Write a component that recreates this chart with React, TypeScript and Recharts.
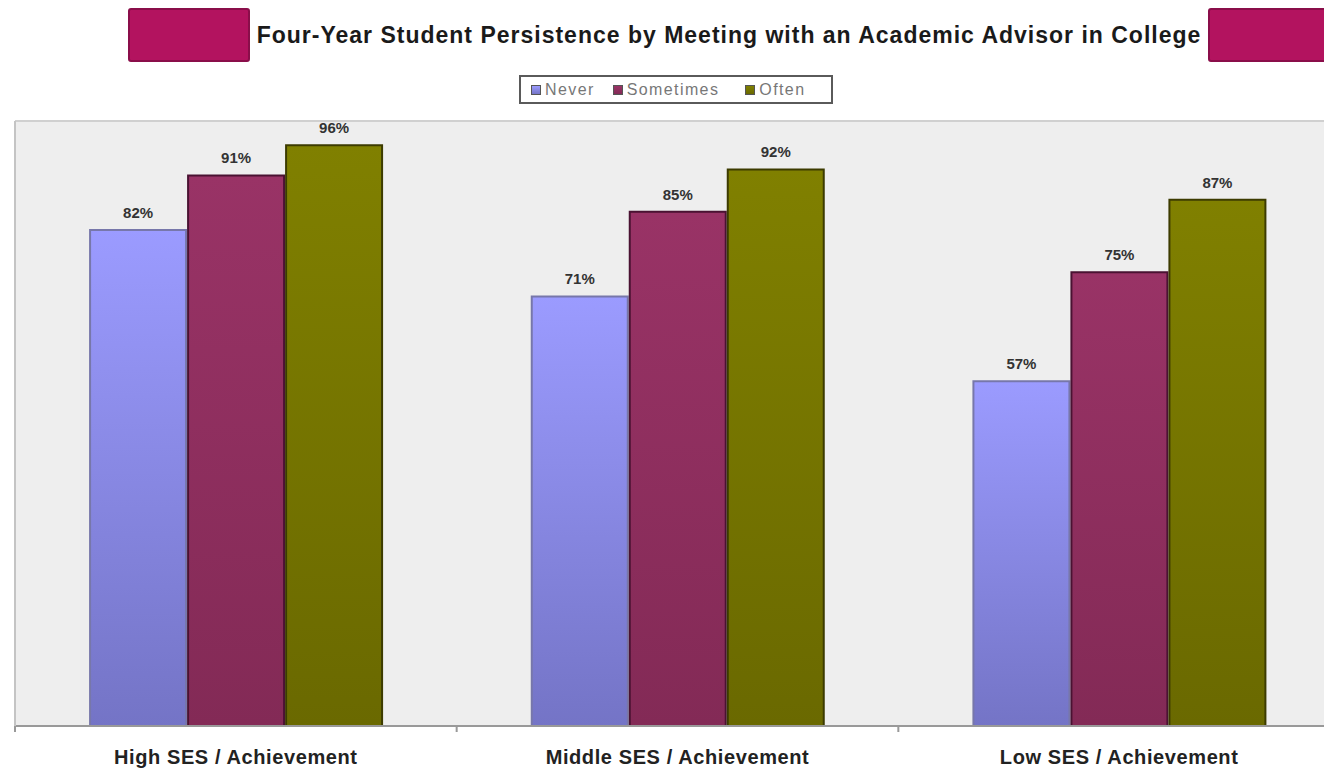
import React from 'react';
import { BarChart, Bar, XAxis, YAxis, CartesianGrid, Legend, LabelList, ReferenceLine } from 'recharts';

const groups = ['High SES / Achievement', 'Middle SES / Achievement', 'Low SES / Achievement'];
const never = [82, 71, 57];
const sometimes = [91, 85, 75];
const often = [96, 92, 87];

const seriesInfo = [
  { key: 'never', name: 'Never', top: '#9b9bff', bottom: '#7474c6', stroke: '#7777aa' },
  { key: 'sometimes', name: 'Sometimes', top: '#993366', bottom: '#832a56', stroke: '#4a1232' },
  { key: 'often', name: 'Often', top: '#808000', bottom: '#6a6900', stroke: '#3c3b00' },
];

const data = groups.map((g, i) => ({ group: g, never: never[i], sometimes: sometimes[i], often: often[i] }));

const CHART_W = 1340;
const CHART_H = 768;
const Y_W = 15;
const BAND = (CHART_W - Y_W) / groups.length;

const CategoryTick = (props: any) => {
  const { x, y, payload } = props;
  const left = x - BAND / 2;
  return (
    <g>
      <line x1={left} x2={left} y1={y} y2={y + 6} stroke="#999" strokeWidth={2} />
      <text x={x} y={y + 38} textAnchor="middle" fontSize={20} fontWeight="bold" letterSpacing={0.6}
        fill="#222" fontFamily="'Liberation Sans', Arial, sans-serif">
        {payload.value}
      </text>
    </g>
  );
};

const LegendBox = () => (
  <div style={{
    border: '2px solid #5a5a5a', background: '#fff', height: 29, display: 'flex', alignItems: 'center',
    fontFamily: "'Liberation Sans', Arial, sans-serif", fontSize: 16, color: '#777', letterSpacing: 1.4,
    boxSizing: 'border-box', paddingLeft: 10,
  }}>
    {seriesInfo.map((s, i) => (
      <div key={s.key} style={{ display: 'flex', alignItems: 'center', marginRight: i === 0 ? 18 : 26 }}>
        <span style={{
          width: 8, height: 8, display: 'inline-block', marginRight: 4,
          background: `linear-gradient(${s.top}, ${s.bottom})`, border: '1px solid #555',
        }} />
        <span>{s.name}</span>
      </div>
    ))}
  </div>
);

const App: React.FC = () => {
  return (
    <div style={{ position: 'absolute', left: 0, top: 0, width: 1324, height: 768, overflow: 'hidden', background: '#fff' }}>
      <div style={{
        position: 'absolute', left: 128, top: 8, width: 122, height: 54, boxSizing: 'border-box',
        background: '#b3135f', border: '2px solid #8a0e4a', borderRadius: 3,
      }} />
      <div style={{
        position: 'absolute', left: 1208, top: 8, width: 130, height: 54, boxSizing: 'border-box',
        background: '#b3135f', border: '2px solid #8a0e4a', borderRadius: 3,
      }} />
      <div style={{
        position: 'absolute', left: 250, top: 22, width: 958, textAlign: 'center',
        fontFamily: "'Liberation Sans', Arial, sans-serif", fontWeight: 'bold', fontSize: 23,
        letterSpacing: 1, color: '#1a1a1a', whiteSpace: 'nowrap',
      }}>
        Four-Year Student Persistence by Meeting with an Academic Advisor in College
      </div>
      <BarChart width={CHART_W} height={CHART_H} data={data}
        margin={{ top: 121, right: 0, bottom: 0, left: 0 }}
        barCategoryGap="17%" barGap={2}>
        <defs>
          {seriesInfo.map((s) => (
            <linearGradient key={s.key} id={`grad-${s.key}`} x1="0" y1="0" x2="0" y2="1">
              <stop offset="0%" stopColor={s.top} />
              <stop offset="100%" stopColor={s.bottom} />
            </linearGradient>
          ))}
        </defs>
        <CartesianGrid fill="#eeeeee" horizontal={false} vertical={false} />
        <XAxis dataKey="group" height={42} axisLine={{ stroke: '#999', strokeWidth: 2 }}
          tickLine={false} tickSize={0} tickMargin={0} tick={<CategoryTick />} interval={0} />
        <YAxis width={Y_W} domain={[0, 100]} tick={false} tickLine={false}
          axisLine={{ stroke: '#c4c4c4', strokeWidth: 2 }} />
        <ReferenceLine y={100} stroke="#d0d0d0" strokeWidth={2} />
        <Legend verticalAlign="middle" align="center" content={<LegendBox />}
          wrapperStyle={{ top: 75, left: 519, width: 314, height: 33 }} />
        {seriesInfo.map((s) => (
          <Bar key={s.key} dataKey={s.key} name={s.name} fill={`url(#grad-${s.key})`}
            stroke={s.stroke} strokeWidth={2} isAnimationActive={false}>
            <LabelList dataKey={s.key} position="top" offset={12} formatter={(v: any) => `${v}%`}
              fill="#333" fontSize={15} fontWeight="bold" fontFamily="'Liberation Sans', Arial, sans-serif" />
          </Bar>
        ))}
      </BarChart>
    </div>
  );
};

export default App;
